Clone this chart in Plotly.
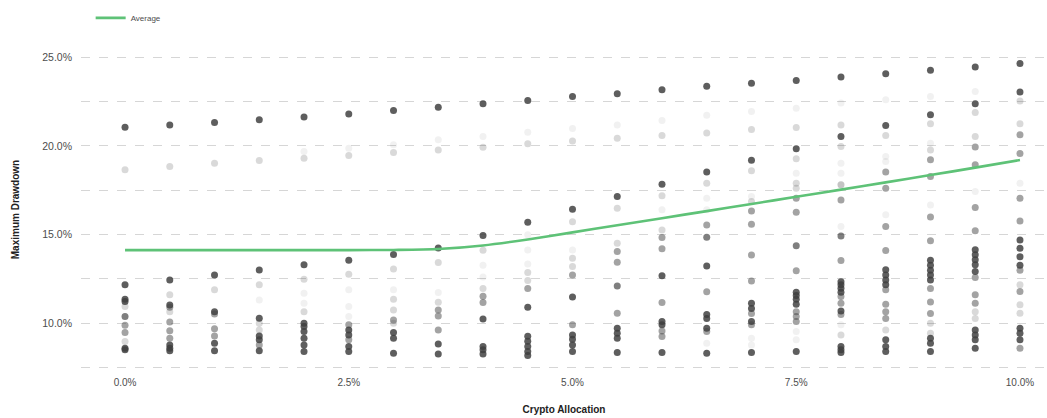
import plotly.graph_objects as go

# ---- data ----
allocations = [0.0, 0.5, 1.0, 1.5, 2.0, 2.5, 3.0, 3.5, 4.0, 4.5, 5.0,
               5.5, 6.0, 6.5, 7.0, 7.5, 8.0, 8.5, 9.0, 9.5, 10.0]

average_drawdown = [14.12, 14.12, 14.12, 14.12, 14.12, 14.12, 14.13, 14.18, 14.38, 14.72, 15.12,
                    15.52, 15.92, 16.32, 16.72, 17.13, 17.53, 17.94, 18.35, 18.77, 19.2]

# max drawdown (%) of simulated portfolios per allocation
drawdowns = [
    [21.05, 18.65, 12.16, 11.35, 11.22, 10.94, 10.37, 9.89, 9.47, 8.96, 8.59, 8.5],
    [21.18, 18.83, 12.44, 11.6, 11.03, 10.9, 10.65, 10.07, 9.58, 9.15, 8.77, 8.59, 8.45],
    [21.31, 19.02, 12.72, 11.88, 10.65, 10.52, 9.69, 9.28, 8.87, 8.45],
    [21.47, 19.17, 13.0, 12.16, 11.31, 10.28, 10.0, 9.62, 9.28, 9.06, 8.77, 8.45],
    [21.62, 19.68, 19.3, 13.3, 12.48, 11.69, 11.13, 10.65, 10.0, 9.81, 9.53, 9.15, 8.77, 8.4],
    [21.8, 19.87, 19.45, 13.55, 12.76, 11.88, 10.94, 10.37, 9.91, 9.62, 9.34, 9.06, 8.68, 8.4],
    [21.99, 20.06, 19.62, 13.87, 13.06, 11.88, 11.35, 10.74, 10.18, 10.0, 9.47, 9.15, 8.31],
    [22.18, 20.34, 19.77, 14.24, 13.42, 11.73, 11.18, 10.74, 10.4, 9.62, 8.83, 8.26],
    [22.37, 20.52, 19.92, 14.94, 14.11, 13.27, 12.6, 11.95, 11.52, 11.16, 10.23, 8.68, 8.5, 8.26],
    [22.56, 20.76, 20.12, 15.69, 14.98, 14.13, 13.33, 12.86, 12.41, 11.96, 10.9, 9.26, 8.98, 8.68, 8.4, 8.18],
    [22.78, 20.98, 20.27, 16.43, 15.72, 14.13, 13.66, 13.19, 12.72, 11.48, 9.91, 9.34, 9.1, 8.77, 8.4],
    [22.93, 21.18, 20.43, 17.14, 16.48, 14.51, 14.04, 13.44, 12.1, 10.56, 9.71, 9.43, 9.15, 8.34],
    [23.16, 21.43, 20.58, 17.84, 17.18, 16.39, 15.26, 14.83, 14.19, 12.68, 11.16, 10.09, 9.91, 9.56, 9.25, 8.35],
    [23.36, 21.72, 20.72, 18.52, 17.89, 17.04, 16.39, 15.53, 14.85, 13.23, 11.77, 10.49, 10.26, 9.71, 9.53, 8.87, 8.31],
    [23.53, 21.94, 20.92, 19.18, 18.59, 17.14, 16.86, 16.33, 15.58, 13.85, 12.38, 11.12, 10.83, 10.54, 10.09, 9.91, 9.15, 8.77, 8.34],
    [23.68, 22.12, 21.03, 19.83, 19.27, 18.46, 17.89, 17.61, 17.04, 16.25, 14.37, 12.95, 11.75, 11.56, 11.35, 11.07, 10.65, 10.37, 10.09, 9.53, 9.06, 8.4],
    [23.88, 22.41, 21.18, 20.53, 19.96, 19.02, 18.46, 17.8, 16.95, 15.45, 14.92, 13.53, 12.34, 12.16, 11.97, 11.75, 11.5, 11.13, 10.69, 10.49, 9.91, 9.34, 8.68, 8.5, 8.34],
    [24.07, 22.6, 21.14, 20.58, 19.4, 19.11, 18.52, 17.61, 16.11, 15.45, 14.1, 13.01, 12.72, 12.44, 12.16, 11.88, 11.07, 10.65, 10.26, 9.62, 9.06, 8.68, 8.4],
    [24.26, 22.78, 21.75, 21.24, 20.15, 19.77, 19.21, 18.27, 16.67, 15.99, 14.65, 13.55, 13.27, 12.98, 12.72, 12.44, 11.95, 11.2, 10.54, 10.0, 9.43, 9.15, 8.87, 8.4],
    [24.45, 23.06, 22.37, 21.88, 20.53, 19.93, 18.93, 17.42, 16.52, 15.21, 14.14, 13.86, 13.58, 13.3, 12.92, 12.58, 11.6, 11.13, 10.65, 10.26, 9.62, 9.34, 9.06, 8.59],
    [24.64, 23.03, 22.53, 21.25, 20.62, 19.57, 17.89, 17.04, 15.76, 14.69, 14.22, 13.75, 13.27, 12.98, 12.16, 11.79, 11.04, 10.56, 9.71, 9.43, 9.06, 8.59],
]

# number of overlapping simulations at each drawdown value
counts = [
    [25, 3, 25, 25, 25, 3, 15, 9, 9, 3, 25, 25],
    [25, 3, 25, 3, 25, 9, 3, 9, 9, 9, 25, 25, 25],
    [25, 3, 25, 3, 25, 9, 9, 9, 25, 25],
    [25, 3, 25, 3, 1, 25, 3, 3, 25, 25, 9, 25],
    [25, 1, 3, 25, 3, 1, 1, 3, 25, 25, 25, 25, 25, 25],
    [25, 1, 3, 25, 3, 1, 1, 1, 9, 25, 25, 9, 25, 25],
    [25, 1, 3, 25, 3, 1, 3, 3, 9, 3, 25, 25, 25],
    [25, 1, 3, 25, 3, 1, 3, 9, 9, 9, 25, 25],
    [25, 1, 3, 25, 3, 1, 1, 3, 9, 9, 25, 25, 25, 25],
    [25, 1, 3, 25, 1, 1, 1, 3, 3, 9, 25, 25, 25, 25, 25, 25],
    [25, 1, 3, 25, 3, 1, 3, 3, 9, 25, 9, 25, 25, 25, 25],
    [25, 1, 3, 25, 3, 3, 9, 9, 15, 9, 25, 25, 25, 25],
    [25, 1, 3, 25, 3, 1, 3, 9, 9, 25, 9, 25, 25, 9, 9, 25],
    [25, 1, 3, 25, 3, 1, 1, 9, 15, 25, 9, 25, 25, 25, 9, 1, 25],
    [25, 1, 3, 25, 3, 1, 3, 9, 9, 9, 9, 25, 25, 9, 25, 9, 1, 1, 25],
    [25, 1, 3, 25, 3, 1, 3, 3, 9, 9, 15, 9, 25, 25, 25, 25, 9, 9, 9, 1, 1, 25],
    [25, 1, 3, 25, 3, 1, 1, 5, 9, 1, 15, 9, 25, 25, 25, 25, 9, 9, 25, 9, 1, 3, 25, 25, 25],
    [25, 1, 25, 3, 1, 1, 9, 9, 1, 9, 9, 25, 25, 25, 25, 9, 9, 9, 9, 3, 25, 25, 25],
    [25, 1, 25, 3, 1, 3, 9, 9, 1, 9, 9, 25, 25, 25, 25, 25, 9, 9, 9, 3, 3, 25, 25, 25],
    [25, 1, 25, 3, 3, 9, 9, 1, 9, 9, 25, 25, 25, 25, 25, 9, 9, 9, 3, 3, 25, 25, 25, 25],
    [25, 25, 3, 3, 9, 9, 1, 9, 9, 25, 25, 25, 25, 9, 3, 9, 3, 3, 25, 25, 25, 9],
]

x_tick_vals = [0, 2.5, 5, 7.5, 10]
y_tick_vals = [10, 15, 20, 25]

# ---- build figure ----
pt_x, pt_y, pt_op = [], [], []
for a, vals, cnts in zip(allocations, drawdowns, counts):
    for v, c in zip(vals, cnts):
        pt_x.append(a)
        pt_y.append(v)
        pt_op.append(1 - (1 - 0.07) ** c)

FONT = "Liberation Sans, Arial, sans-serif"

fig = go.Figure()
fig.add_trace(go.Scatter(
    x=pt_x, y=pt_y, mode="markers", showlegend=False,
    marker=dict(size=7, color="#3e3e3e", opacity=pt_op, line=dict(width=0)),
    hoverinfo="skip",
))
fig.add_trace(go.Scatter(
    x=allocations, y=average_drawdown, mode="lines", name="Average",
    line=dict(color="#5ec277", width=2.6, shape="spline", smoothing=0.8),
))

fig.update_layout(
    width=1047, height=418,
    margin=dict(l=81, r=0, t=49, b=48),
    paper_bgcolor="white", plot_bgcolor="white",
    font=dict(family=FONT, size=10, color="#4d4d4d"),
    showlegend=True,
    legend=dict(orientation="h", x=0.01, xanchor="left", y=1.097, yanchor="middle",
                font=dict(size=8, color="#4d4d4d"), bgcolor="rgba(0,0,0,0)"),
)
fig.update_xaxes(
    range=[-0.492, 10.302], tickvals=x_tick_vals,
    ticktext=[f"{v:.1f}%" for v in x_tick_vals],
    showgrid=False, zeroline=False, showline=False, ticks="",
    ticklabelstandoff=5,
    tickfont=dict(size=10, color="#4d4d4d"),
    title=dict(text="<b>Crypto Allocation</b>", font=dict(size=10, color="#222"), standoff=18),
)
fig.update_yaxes(
    range=[7.36, 25.46], tickvals=y_tick_vals,
    ticktext=[f"{v:.1f}%" for v in y_tick_vals],
    showgrid=True, gridcolor="#d6d6d6", griddash="dash", gridwidth=1,
    minor=dict(tickvals=[7.5, 12.5, 17.5, 22.5], showgrid=True, gridcolor="#d6d6d6",
               griddash="dash", gridwidth=1),
    zeroline=False, showline=False, ticks="",
    ticklabelstandoff=8,
    tickfont=dict(size=10.5, color="#4d4d4d"),
    title=dict(text="<b>Maximum Drawdown</b>", font=dict(size=10, color="#222"), standoff=20),
)

fig.write_html("out.html")
